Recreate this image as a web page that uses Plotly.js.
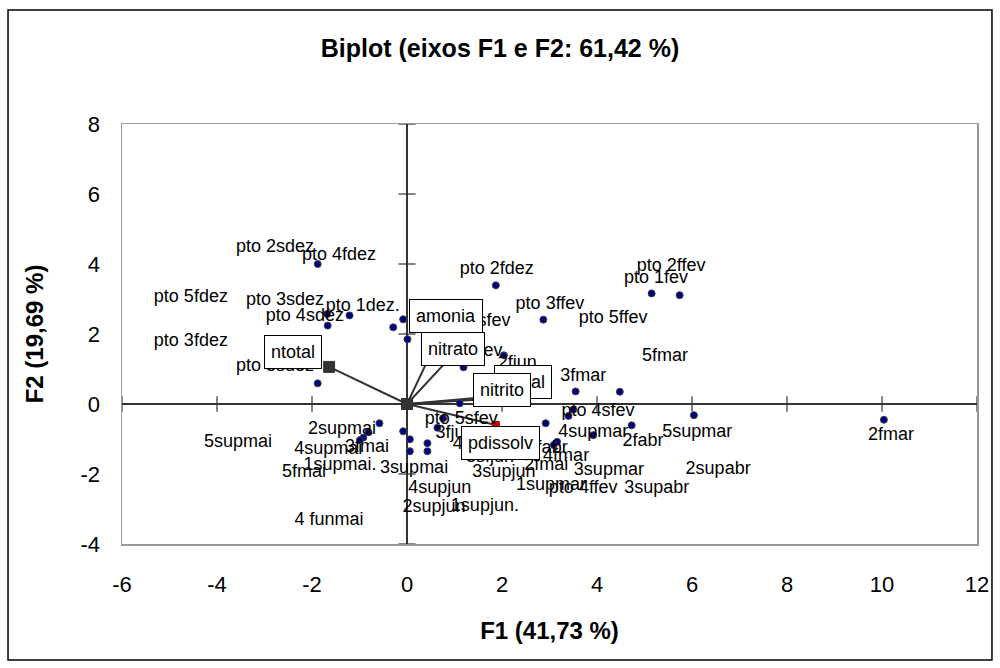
<!DOCTYPE html>
<html>
<head>
<meta charset="utf-8">
<script src="https://cdn.plot.ly/plotly-3.0.1.min.js"></script>
<style>html,body{margin:0;padding:0;background:#fff;}#chart{width:1000px;height:668px;}</style>
</head>
<body>
<div id="chart"></div>
<script>
// Observations (F1, F2) - dots
const obsX = [-1.88,-1.68,-1.21,-1.67,-0.08,-0.29,0.01,-1.88,1.87,2.87,1.19,2.04,3.55,1.11,5.15,5.74,4.48,6.04,10.04,4.73,3.92,3.50,3.40,2.92,0.76,0.64,-0.08,0.06,0.43,0.06,0.43,3.16,3.09,-0.58,-0.81,-0.92,-0.99];
const obsY = [4.00,2.57,2.53,2.24,2.42,2.19,1.85,0.59,3.39,2.41,1.05,1.39,0.36,0.02,3.16,3.11,0.35,-0.32,-0.45,-0.61,-0.89,-0.16,-0.34,-0.55,-0.41,-0.68,-0.78,-1.01,-1.12,-1.35,-1.35,-1.08,-1.17,-0.55,-0.81,-0.96,-1.03];

// Observation labels and where they sit on the chart
const obsLabels = ["pto 2sdez","pto 4fdez","pto 5fdez","pto 3sdez","pto 1dez.","pto 4sdez","pto 3fdez","pto 5sdez","pto 2fdez","pto 3ffev","pto 3sfev","pto 2sfev","2fjun","3fmar","pto 4sfev","pto 1fev","pto 2ffev","pto 5ffev","5fmar","5supmar","2fmar","2fabr","4supmar","2supabr","3supmar","pto 4ffev","3supabr","1supmar","2fmai","4fmar","5fabr","3supjun","4supjun","2supjun","1supjun.","3supmai","pto 5sfev","3fjun","4sfjun","5sfjun","2supmai","4supmai","3fmai","1supmai.","5fmai","5supmai","4 funmai"];
const labelX = [-2.78,-1.43,-4.55,-2.57,-0.93,-2.15,-4.55,-2.78,1.89,3.01,1.41,1.24,2.32,3.71,4.02,5.24,5.56,4.34,5.43,6.11,10.19,4.97,3.92,6.55,4.25,3.71,5.26,3.03,2.93,3.35,2.95,2.04,0.69,0.57,1.64,0.15,1.14,1.01,1.47,1.75,-1.37,-1.66,-0.84,-1.41,-2.17,-3.56,-1.64];
const labelY = [4.46,4.23,3.03,2.97,2.80,2.51,1.80,1.06,3.83,2.83,2.37,1.49,1.17,0.80,-0.20,3.60,3.94,2.43,1.37,-0.80,-0.89,-1.06,-0.80,-1.86,-1.91,-2.40,-2.40,-2.34,-1.77,-1.51,-1.26,-1.97,-2.40,-2.97,-2.94,-1.83,-0.43,-0.83,-1.17,-1.54,-0.74,-1.31,-1.23,-1.77,-1.97,-1.09,-3.34];

// Variables (vectors)
const varNames = ["ptotal","nitrito","amonia","nitrato","ntotal","pdissolv"];
const varX = [2.48,2.06,0.59,1.02,-1.64,1.87];
const varY = [0.29,0.17,1.69,1.49,1.06,-0.60];
const varColors = ["#333333","#333333","#333333","#333333","#333333","#cc0000"];
const varLabelX = [2.45,1.99,0.83,0.96,-2.39,1.97];
const varLabelY = [0.62,0.39,2.51,1.57,1.49,-1.10];

const xTicks = [-6,-4,-2,0,2,4,6,8,10,12];
const yTicks = [-4,-2,0,2,4,6,8];

const FONT = "Liberation Sans, Arial, sans-serif";

// one line trace per vector, from origin to its end point
const traces = varNames.map((n,i)=>({
  x: [0, varX[i]], y: [0, varY[i]], mode: "lines+markers", type: "scatter", name: n,
  line: {color: "#333333", width: 2},
  marker: {symbol: "square", size: [11, i===5 ? 7 : 11], opacity: 1, color: ["#333333", varColors[i]],
           line: {color: ["#333333", varColors[i]], width: 1}},
  hoverinfo: "skip", showlegend: false
}));
traces.push(
  {x: obsX, y: obsY, mode: "markers", type: "scatter",
   marker: {color: "#000080", size: 7, opacity: 1, line: {color: "#404040", width: 1}},
   showlegend: false},
  {x: labelX, y: labelY, mode: "text", type: "scatter", text: obsLabels,
   textposition: "middle center", textfont: {family: FONT, size: 18, color: "#000"},
   hoverinfo: "skip", showlegend: false}
);

const shapes = [];
xTicks.forEach(t=>shapes.push({type:"line", xref:"x", yref:"y", x0:t, x1:t, y0:-0.22, y1:0.22, line:{color:"#333", width:1.2}}));
yTicks.forEach(t=>shapes.push({type:"line", xref:"x", yref:"y", x0:-0.18, x1:0.18, y0:t, y1:t, line:{color:"#333", width:1.2}}));
// outer chart frame
shapes.push({type:"rect", xref:"paper", yref:"paper", x0:-0.1333, x1:1.0175, y0:-0.2762, y1:1.2714, line:{color:"#000", width:1.5}, layer:"below"});

const annotations = varNames.map((n,i)=>({
  x: varLabelX[i], y: varLabelY[i], xref:"x", yref:"y", text: n, showarrow:false,
  font:{family: FONT, size:18, color:"#000"}, bgcolor:"#ffffff", bordercolor:"#000", borderwidth:1, borderpad:6
}));

const layout = {
  width: 1000, height: 668,
  margin: {l:122, r:23, t:124, b:124},
  paper_bgcolor: "#fff", plot_bgcolor: "#fff",
  font: {family: FONT, color:"#000"},
  title: {text: "<b>Biplot (eixos F1 e F2: 61,42 %)</b>", font:{family:FONT, size:25, color:"#000"},
          xref:"container", yref:"container", x:0.5, xanchor:"center", y:1-48/668, yanchor:"middle"},
  xaxis: {range:[-6,12], tickvals: xTicks, ticktext: xTicks.map(String), showgrid:false,
          zeroline:true, zerolinecolor:"#333", zerolinewidth:1.5,
          showline:true, mirror:true, linecolor:"#999", linewidth:1.5, ticks:"",
          tickfont:{family:FONT, size:22, color:"#000"}, ticklabelstandoff: 20,
          title:{text:"<b>F1 (41,73 %)</b>", font:{family:FONT, size:24, color:"#000"}, standoff: 26}},
  yaxis: {range:[-4,8], tickvals: yTicks, ticktext: yTicks.map(String), showgrid:false,
          zeroline:true, zerolinecolor:"#333", zerolinewidth:1.5,
          showline:true, mirror:true, linecolor:"#999", linewidth:1.5, ticks:"",
          tickfont:{family:FONT, size:22, color:"#000"}, ticklabelstandoff: 16,
          title:{text:"<b>F2 (19,69 %)</b>", font:{family:FONT, size:24, color:"#000"}, standoff: 30}},
  shapes: shapes,
  annotations: annotations,
  showlegend: false
};

Plotly.newPlot("chart", traces, layout, {displayModeBar:false, staticPlot:true});
</script>
</body>
</html>
